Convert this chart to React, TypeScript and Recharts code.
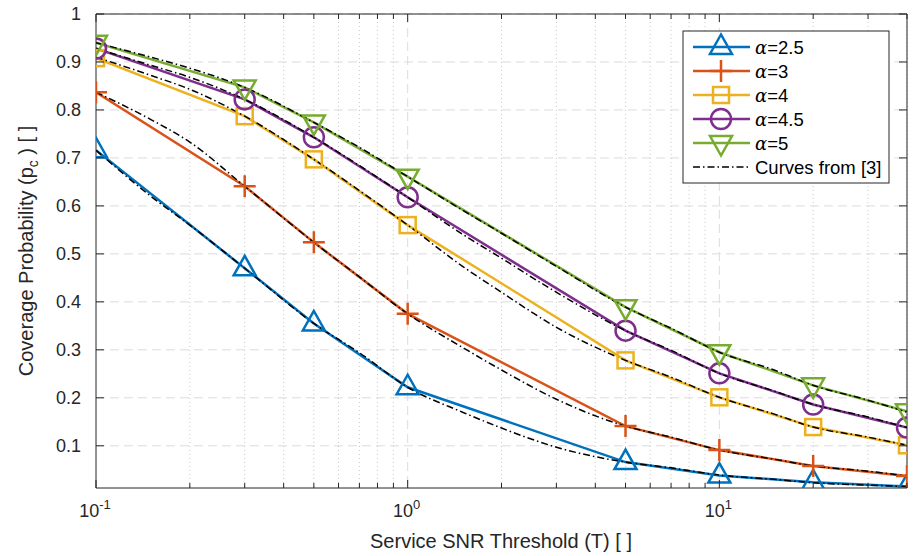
import React from "react";
import { LineChart, Line, XAxis, YAxis, CartesianGrid } from "recharts";

document.body.style.margin = "0";

// sample points of the simulated curves
const thresholds = [0.1, 0.3, 0.5, 1, 5, 10, 20, 40];
const alpha25 = [0.716, 0.47, 0.355, 0.222, 0.066, 0.038, 0.024, 0.015];
const alpha3 = [0.837, 0.641, 0.524, 0.375, 0.141, 0.091, 0.058, 0.037];
const alpha4 = [0.908, 0.787, 0.697, 0.56, 0.278, 0.201, 0.139, 0.101];
const alpha45 = [0.928, 0.822, 0.743, 0.618, 0.34, 0.251, 0.186, 0.138];
const alpha5 = [0.94, 0.847, 0.774, 0.661, 0.389, 0.295, 0.226, 0.172];

// reference curves from [3], read at more thresholds
const refThresholds = [0.1, 0.15, 0.2, 0.3, 0.5, 0.7, 1, 1.5, 2, 3, 5, 7, 10, 15, 20, 30, 40];
const ref25 = [0.716, 0.62, 0.56, 0.47, 0.355, 0.294, 0.222, 0.17, 0.137, 0.097, 0.066, 0.054, 0.039, 0.03, 0.023, 0.018, 0.015];
const ref3 = [0.837, 0.78, 0.733, 0.641, 0.524, 0.452, 0.375, 0.305, 0.258, 0.197, 0.141, 0.118, 0.091, 0.072, 0.058, 0.047, 0.037];
const ref4 = [0.91, 0.872, 0.843, 0.787, 0.697, 0.632, 0.56, 0.474, 0.42, 0.347, 0.278, 0.243, 0.201, 0.166, 0.139, 0.118, 0.101];
const ref45 = [0.928, 0.893, 0.868, 0.822, 0.743, 0.684, 0.618, 0.541, 0.491, 0.42, 0.34, 0.299, 0.251, 0.214, 0.186, 0.16, 0.138];
const ref5 = [0.94, 0.91, 0.887, 0.847, 0.774, 0.722, 0.661, 0.591, 0.543, 0.474, 0.389, 0.345, 0.295, 0.258, 0.226, 0.195, 0.17];

const xMajor = [0.1, 1, 10];
const xExponents = ["-1", "0", "1"];
const xMinor = [0.2, 0.3, 0.4, 0.5, 0.6, 0.7, 0.8, 0.9, 2, 3, 4, 5, 6, 7, 8, 9, 20, 30, 40];
const yTicks = [0.1, 0.2, 0.3, 0.4, 0.5, 0.6, 0.7, 0.8, 0.9, 1];

type Shape = "up" | "plus" | "square" | "circle" | "down";

const series: { name: string; values: number[]; ref: number[]; color: string; shape: Shape }[] = [
  { name: "=2.5", values: alpha25, ref: ref25, color: "#0072BD", shape: "up" },
  { name: "=3", values: alpha3, ref: ref3, color: "#D95319", shape: "plus" },
  { name: "=4", values: alpha4, ref: ref4, color: "#EDB120", shape: "square" },
  { name: "=4.5", values: alpha45, ref: ref45, color: "#7E2F8E", shape: "circle" },
  { name: "=5", values: alpha5, ref: ref5, color: "#77AC30", shape: "down" },
];

const W = 923;
const H = 556;
const axisColor = "#262626";
const font = "'Liberation Sans', Arial, sans-serif";
const dashDot = "7 3 1.5 3";

const toPoints = (xs: number[], ys: number[]) => xs.map((x, i) => ({ x, y: ys[i] }));

function Marker({ cx, cy, shape, color }: { cx: number; cy: number; shape: Shape; color: string }) {
  const common = { fill: "none", stroke: color, strokeWidth: 2.5 };
  switch (shape) {
    case "up":
      return <polygon points={`${cx},${cy - 12.5} ${cx - 11},${cy + 7} ${cx + 11},${cy + 7}`} {...common} />;
    case "down":
      return <polygon points={`${cx},${cy + 12.5} ${cx - 11},${cy - 7} ${cx + 11},${cy - 7}`} {...common} />;
    case "plus":
      return <path d={`M${cx - 11},${cy}H${cx + 11}M${cx},${cy - 11}V${cy + 11}`} {...common} />;
    case "square":
      return <rect x={cx - 8} y={cy - 8} width={16} height={16} {...common} />;
    default:
      return <circle cx={cx} cy={cy} r={10} {...common} />;
  }
}

const BottomTick = (props: any) => {
  const { x, y, payload } = props;
  const idx = xMajor.indexOf(payload.value);
  const major = idx >= 0;
  return (
    <g>
      <line x1={x} x2={x} y1={y} y2={y - (major ? 8 : 5)} stroke={axisColor} />
      {major && (
        <text x={x - 1} y={y + 29} textAnchor="middle" fontSize={18} fill={axisColor} fontFamily={font}>
          10
          <tspan dy={-8} fontSize={13}>
            {xExponents[idx]}
          </tspan>
        </text>
      )}
    </g>
  );
};

const TopTick = (props: any) => {
  const { x, y, payload } = props;
  const major = xMajor.includes(payload.value);
  return <line x1={x} x2={x} y1={y} y2={y + (major ? 8 : 5)} stroke={axisColor} />;
};

const LeftTick = (props: any) => {
  const { x, y, payload } = props;
  return (
    <g>
      <line x1={x} x2={x + 8} y1={y} y2={y} stroke={axisColor} />
      <text x={x - 15} y={y} dy="0.36em" textAnchor="end" fontSize={18} fill={axisColor} fontFamily={font}>
        {String(payload.value)}
      </text>
    </g>
  );
};

const RightTick = (props: any) => {
  const { x, y } = props;
  return <line x1={x} x2={x - 8} y1={y} y2={y} stroke={axisColor} />;
};

function LegendBox() {
  const left = 683;
  const top = 31;
  return (
    <g fontFamily={font} fontSize={18.5} fill="#000">
      <rect x={left} y={top} width={206} height={152} fill="#fff" stroke={axisColor} strokeWidth={1} />
      {series.map((s, i) => {
        const cy = top + 16 + i * 24;
        return (
          <g key={s.name}>
            <line x1={693} x2={750} y1={cy} y2={cy} stroke={s.color} strokeWidth={2.5} />
            <Marker cx={721} cy={cy} shape={s.shape} color={s.color} />
            <text x={755} y={cy} dy="0.36em">
              <tspan fontFamily="'DejaVu Serif', serif" fontStyle="italic" fontSize={18}>
                α
              </tspan>
              {s.name}
            </text>
          </g>
        );
      })}
      <line x1={693} x2={750} y1={top + 136} y2={top + 136} stroke="#000" strokeWidth={1.5} strokeDasharray={dashDot} />
      <text x={755} y={top + 136} dy="0.36em">
        Curves from [3]
      </text>
    </g>
  );
}

export default function App() {
  return (
    <div style={{ position: "relative", width: W, height: H, background: "#fff" }}>
      <LineChart width={W} height={H} margin={{ top: 0, right: 0, bottom: 0, left: 0 }}>
        <CartesianGrid
          xAxisId="bottom"
          yAxisId="left"
          horizontal={false}
          verticalValues={xMinor}
          stroke="#c8c8c8"
          strokeDasharray="1 3"
        />
        <CartesianGrid
          xAxisId="bottom"
          yAxisId="left"
          verticalValues={[1, 10]}
          horizontalValues={yTicks}
          stroke="#dcdcdc"
          strokeDasharray="9 5"
        />
        <XAxis
          xAxisId="bottom"
          dataKey="x"
          type="number"
          scale="log"
          domain={[0.1, 40]}
          allowDataOverflow
          ticks={[...xMajor, ...xMinor]}
          interval={0}
          height={68}
          tickSize={0}
          tickMargin={0}
          tickLine={false}
          axisLine={{ stroke: axisColor }}
          tick={<BottomTick />}
        />
        <XAxis
          xAxisId="top"
          orientation="top"
          dataKey="x"
          type="number"
          scale="log"
          domain={[0.1, 40]}
          allowDataOverflow
          ticks={[...xMajor, ...xMinor]}
          interval={0}
          height={14}
          tickSize={0}
          tickMargin={0}
          tickLine={false}
          axisLine={{ stroke: axisColor }}
          tick={<TopTick />}
        />
        <YAxis
          yAxisId="left"
          type="number"
          domain={[0.012, 1]}
          allowDataOverflow
          ticks={yTicks}
          interval={0}
          width={96}
          tickSize={0}
          tickMargin={0}
          tickLine={false}
          axisLine={{ stroke: axisColor }}
          tick={<LeftTick />}
        />
        <YAxis
          yAxisId="right"
          orientation="right"
          type="number"
          domain={[0.012, 1]}
          allowDataOverflow
          ticks={yTicks}
          interval={0}
          width={16}
          tickSize={0}
          tickMargin={0}
          tickLine={false}
          axisLine={{ stroke: axisColor }}
          tick={<RightTick />}
        />
        {series.map((s) => (
          <Line
            key={s.name}
            xAxisId="bottom"
            yAxisId="left"
            data={toPoints(thresholds, s.values)}
            dataKey="y"
            type="linear"
            stroke={s.color}
            strokeWidth={2.5}
            isAnimationActive={false}
            dot={(p: any) => <Marker key={`${s.name}-${p.index}`} cx={p.cx} cy={p.cy} shape={s.shape} color={s.color} />}
            activeDot={false}
          />
        ))}
        {series.map((s) => (
          <Line
            key={`ref${s.name}`}
            xAxisId="bottom"
            yAxisId="left"
            data={toPoints(refThresholds, s.ref)}
            dataKey="y"
            type="monotoneX"
            stroke="#000"
            strokeWidth={1.5}
            strokeDasharray={dashDot}
            dot={false}
            activeDot={false}
            isAnimationActive={false}
          />
        ))}
      </LineChart>
      <svg width={W} height={H} style={{ position: "absolute", left: 0, top: 0, pointerEvents: "none" }}>
        <text x={501} y={548} textAnchor="middle" fontSize={20} fill={axisColor} fontFamily={font}>
          Service SNR Threshold (T) [ ]
        </text>
        <text
          x={33}
          y={251}
          transform="rotate(-90 33 251)"
          textAnchor="middle"
          fontSize={20}
          fill={axisColor}
          fontFamily={font}
        >
          Coverage Probability (p
          <tspan dy={5} fontSize={14}>
            c
          </tspan>
          <tspan dy={-5}> ) [ ]</tspan>
        </text>
        <LegendBox />
      </svg>
    </div>
  );
}
